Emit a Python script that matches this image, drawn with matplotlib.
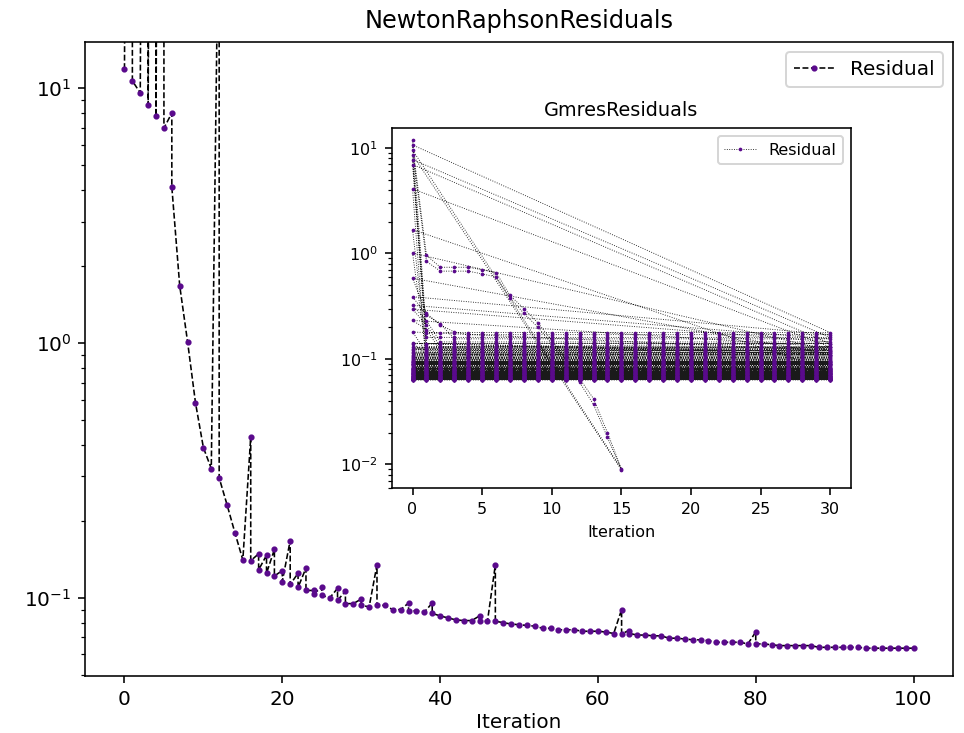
import matplotlib
matplotlib.use("Agg")
import matplotlib.pyplot as plt

# Newton-Raphson: accepted residual at every iteration 0..100
newton_accepted = [
    11.9, 10.7, 9.59, 8.63, 7.77, 6.98, 4.10, 1.68, 1.01, 0.583,
    0.389, 0.322, 0.296, 0.232, 0.180, 0.141, 0.140, 0.129, 0.125, 0.122,
    0.116, 0.113, 0.110, 0.107, 0.104, 0.1025, 0.100, 0.098, 0.095, 0.095,
    0.094, 0.092, 0.0935, 0.0935, 0.090, 0.090, 0.089, 0.089, 0.088, 0.087,
    0.085, 0.0835, 0.082, 0.0815, 0.0815, 0.081, 0.081, 0.081, 0.080, 0.079,
    0.0785, 0.078, 0.0775, 0.076, 0.076, 0.075, 0.075, 0.075, 0.074, 0.074,
    0.074, 0.0735, 0.0725, 0.0725, 0.0725, 0.0715, 0.0715, 0.071, 0.071, 0.0695,
    0.0695, 0.069, 0.0685, 0.0685, 0.068, 0.067, 0.067, 0.067, 0.067, 0.066,
    0.066, 0.066, 0.0655, 0.065, 0.065, 0.065, 0.065, 0.065, 0.064, 0.064,
    0.064, 0.064, 0.064, 0.064, 0.0635, 0.0635, 0.0635, 0.0635, 0.0635, 0.0635,
    0.0635,
]

# rejected line-search trials (drawn before the accepted point of that iteration)
trial_iteration = [1, 3, 3, 4, 5, 6, 12, 16, 17, 18, 19, 20, 21, 22, 23, 24,
                   25, 27, 28, 30, 32, 36, 39, 45, 47, 63, 64, 80]
trial_residual = [1e8, 3e7, 2e5, 1e8, 1e8, 8.0, 80.0, 0.428, 0.149, 0.147,
                  0.155, 0.128, 0.168, 0.125, 0.131, 0.107, 0.110, 0.109,
                  0.106, 0.099, 0.135, 0.0955, 0.0955, 0.085, 0.135, 0.090,
                  0.0745, 0.0735]

# GMRES solves of the first Newton steps: iterations read after the start value,
# then the level it stays at up to iteration 30 (None = converged, stops)
gmres_early_head = [
    [],
    [0.96, 0.74, 0.74, 0.74, 0.70, 0.66, 0.40, 0.30, 0.22, 0.15, 0.10, 0.065, 0.042, 0.020, 0.0091],
    [0.84, 0.68, 0.68, 0.68, 0.64, 0.60, 0.38, 0.27, 0.20, 0.14, 0.092, 0.06, 0.037, 0.018, 0.0089],
    [],
    [],
    [],
    [],
    [],
    [],
    [0.27, 0.21, 0.18],
    [0.26, 0.215],
    [0.23],
    [0.21],
    [0.19],
    [],
    [],
]
gmres_early_plateau = [0.178, None, None, 0.16, 0.14, 0.13, 0.077, 0.12, 0.11,
                       0.17, 0.155, 0.145, 0.13, 0.12, 0.115, 0.11]
gmres_max_iter = 30

purple = "#5a0a8c"

nr_x, nr_y = [], []
for k, r in enumerate(newton_accepted):
    for it, v in zip(trial_iteration, trial_residual):
        if it == k:
            nr_x.append(k)
            nr_y.append(v)
    nr_x.append(k)
    nr_y.append(r)

gm_x, gm_y = [], []
for k in range(len(newton_accepted) - 1):
    solve = [newton_accepted[k]]
    if k < len(gmres_early_head):
        solve += gmres_early_head[k]
        level = gmres_early_plateau[k]
    else:
        # later steps: GMRES stagnates at its starting residual
        level = newton_accepted[k]
    if level is not None:
        solve += [level] * (gmres_max_iter + 1 - len(solve))
    gm_x += list(range(len(solve)))
    gm_y += solve

fig = plt.figure(figsize=(964 / 144, 733 / 144), dpi=144)
ax = fig.add_axes([0.0882, 0.0778, 0.9004, 0.8649])
ax.plot(nr_x, nr_y, "--", color="k", lw=0.8, marker="o", markersize=2.1,
        markerfacecolor=purple, markeredgecolor=purple, label="Residual")
ax.set_yscale("log")
ax.set_ylim(0.0494, 15.2)
ax.set_xlim(-5, 105)
ax.set_xlabel("Iteration", labelpad=2)
ax.set_title("NewtonRaphsonResiduals", pad=7)
ax.legend(loc="upper right")

ins = fig.add_axes([0.4063, 0.3346, 0.4765, 0.4904])
ins.plot(gm_x, gm_y, ":", color="0.1", lw=0.45, marker=".",
         markersize=1.7, markerfacecolor=purple, markeredgecolor=purple,
         label="Residual")
ins.set_yscale("log")
ins.set_ylim(0.006, 15.4)
ins.set_xlim(-1.5, 31.5)
ins.set_xlabel("Iteration", fontsize=8)
ins.set_title("GmresResiduals", fontsize=9.6)
ins.tick_params(labelsize=8)
ins.legend(loc="upper right", fontsize=8)

fig.savefig("out.png", dpi=144)
